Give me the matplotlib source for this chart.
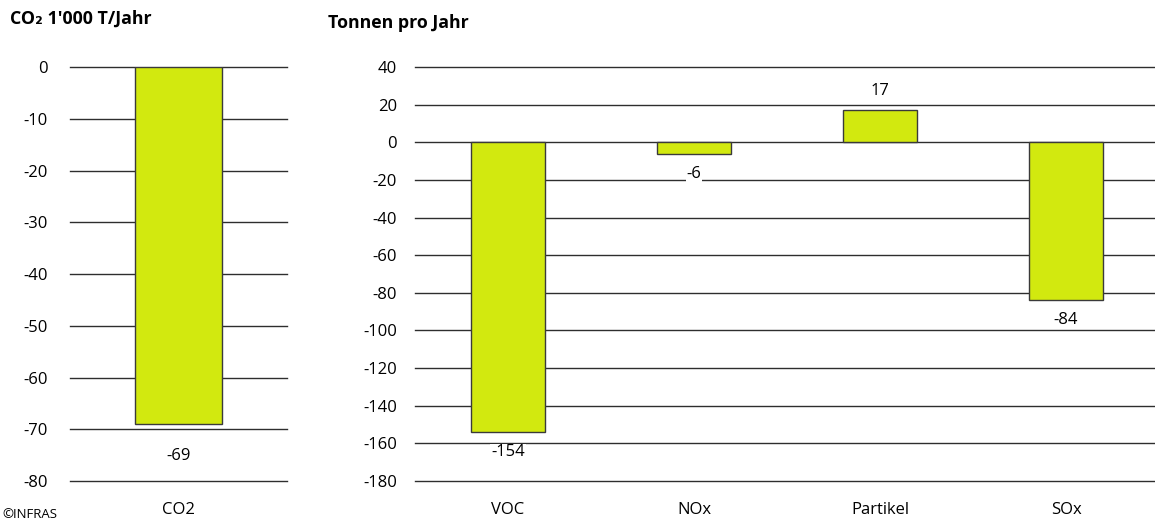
import matplotlib.pyplot as plt

plt.rcParams['font.family'] = ['Open Sans', 'DejaVu Sans']

# data
co2_cat = ["CO2"]
co2_val = [-69]
co2_ticks = [0, -10, -20, -30, -40, -50, -60, -70, -80]

stoff_cat = ["VOC", "NOx", "Partikel", "SOx"]
stoff_val = [-154, -6, 17, -84]
stoff_ticks = [40, 20, 0, -20, -40, -60, -80, -100, -120, -140, -160, -180]

BAR = "#d2e90f"
EDGE = "#3a3a3a"
GRID = "#2e2e2e"

fig = plt.figure(figsize=(11.55, 5.23), dpi=100)
ax1 = fig.add_axes([70 / 1155, 1 - 481 / 523, 217 / 1155, 414 / 523])
ax2 = fig.add_axes([415 / 1155, 1 - 481 / 523, 744 / 1155, 414 / 523])


def style(ax, ticks, cats, ypad):
    ax.set_ylim(min(ticks), max(ticks))
    ax.set_yticks(ticks)
    ax.set_yticklabels([str(t) for t in ticks], fontsize=12)
    ax.set_xlim(-0.5, len(cats) - 0.5)
    ax.set_xticks(range(len(cats)))
    ax.set_xticklabels(cats, fontsize=12)
    ax.tick_params(length=0, pad=ypad, axis="y")
    ax.tick_params(length=0, pad=15, axis="x")
    for s in ax.spines.values():
        s.set_visible(False)
    for t in ticks:
        ax.axhline(t, color=GRID, lw=1, zorder=1, clip_on=False)


def labels(ax, vals, neg_off, pos_off):
    for i, v in enumerate(vals):
        off = pos_off if v >= 0 else -neg_off
        ax.annotate(str(v), (i, v), xytext=(0, off), textcoords="offset points",
                    ha="center", va="center", fontsize=12, zorder=4,
                    bbox=dict(facecolor="white", edgecolor="none", pad=0.5))


style(ax1, co2_ticks, co2_cat, 16)
ax1.bar(range(len(co2_val)), co2_val, width=0.4, color=BAR, edgecolor=EDGE, lw=1, zorder=3)
labels(ax1, co2_val, 23, 14)

style(ax2, stoff_ticks, stoff_cat, 13)
ax2.bar(range(len(stoff_val)), stoff_val, width=0.4, color=BAR, edgecolor=EDGE, lw=1, zorder=3)
labels(ax2, stoff_val, 14.5, 14)

fig.text(10 / 1155, 1 - 19 / 523, "CO\u2082 1'000 T/Jahr", fontsize=12.8, fontweight="bold", va="center")
fig.text(328 / 1155, 1 - 23 / 523, "Tonnen pro Jahr", fontsize=12.8, fontweight="bold", va="center")
fig.text(2 / 1155, 1 - 515 / 523, "\u00a9INFRAS", fontsize=9.5, va="center")

fig.savefig("out.png", dpi=100)
